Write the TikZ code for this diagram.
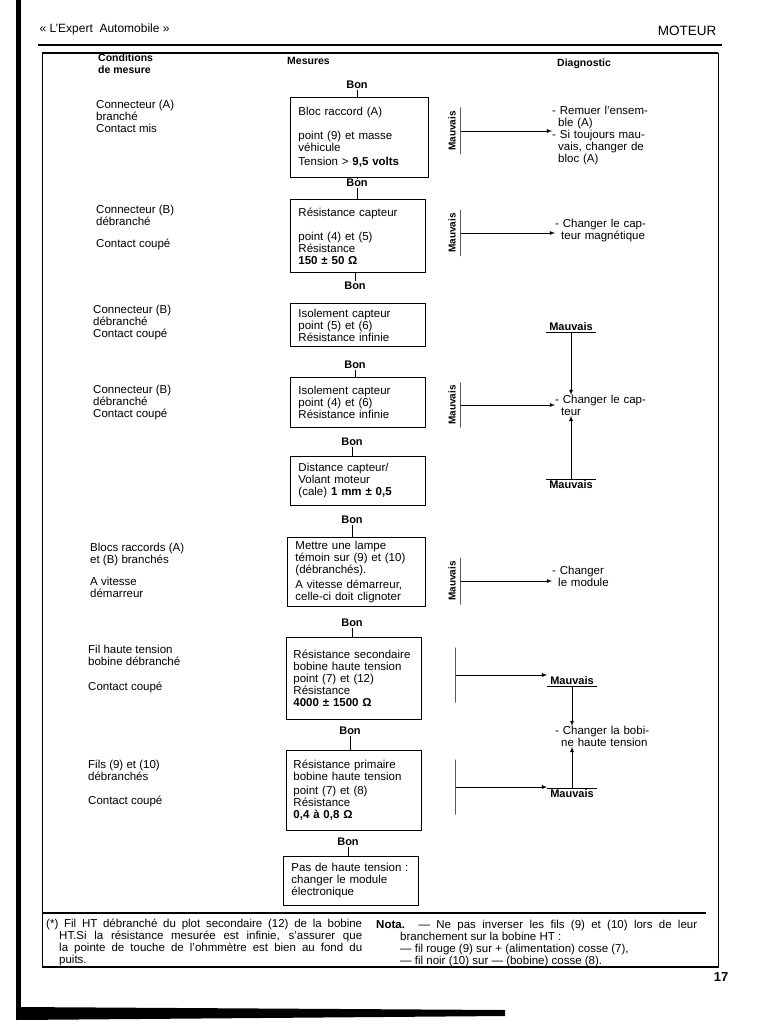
\documentclass[tikz,border=0pt]{standalone}
\usepackage{fontspec}
\setmainfont{Liberation Sans}
\usepackage{tikz}
\usetikzlibrary{arrows,positioning}

\newcommand{\justif}[2]{\makebox[#1][s]{#2}}

\tikzset{
  texte/.style={font=\fontsize{11.5}{12}\selectfont, inner sep=0pt, anchor=north west, align=left},
  diag/.style={texte, text width=#1},
  diag/.default=104pt,
  gras/.style={font=\fontsize{11}{12}\selectfont\bfseries, inner sep=1pt},
  titrecol/.style={texte, font=\fontsize{10.5}{12}\selectfont\bfseries},
  mesure/.style={draw, line width=0.9pt, anchor=north west, align=left,
    font=\fontsize{11.5}{12}\selectfont, inner xsep=8pt, inner ysep=3pt, text width=#1},
  mesure/.default=119pt,
  barre/.style={draw, line width=1pt, inner sep=0pt, minimum width=0pt},
  mauvrot/.style={gras, font=\fontsize{10}{11}\selectfont\bfseries, rotate=90, anchor=south},
  trait/.style={line width=0.8pt},
  fleche/.style={line width=0.8pt, ->, >=latex},
}

\begin{document}
\begin{tikzpicture}[x=1pt,y=-1pt]
  \useasboundingbox (0,0) rectangle (759,1024);
  % reliure
  \fill (16,0) rectangle (21,1012);
  \fill (16,1007) -- (505,1010) -- (505,1016) -- (16,1020) -- cycle;
  % en-tete
  \node[anchor=west, font=\fontsize{12}{14}\selectfont] (titre) at (36,29) {« L'Expert\ \ Automobile »};
  \node[anchor=east, font=\fontsize{13.5}{16}\selectfont] (moteur) at (720,31) {MOTEUR};
  \draw[line width=1.5pt] (38,45) -- (722,45);
  % cadre
  \draw[line width=0.9pt] (42,53) rectangle (718,967);
  \draw[line width=1.4pt] (42,53) -- (718,53);
  \draw[line width=1.4pt] (42,913) -- (706,913);
  \draw[line width=1.4pt] (42,967) -- (718,967);
  \node[font=\fontsize{13}{15}\selectfont\bfseries] (page) at (721,977) {17};

  % titres de colonnes
  \node[titrecol] (hcond) at (98,54) {Conditions\\de mesure};
  \node[titrecol] (hmes) at (287,57) {Mesures};
  \node[titrecol] (hdiag) at (557,59) {Diagnostic};

  % conditions de mesure
  \node[texte] (c1) at (96,100) {Connecteur (A)\\branché\\Contact mis};
  \node[texte] (c2) at (96,205) {Connecteur (B)\\débranché\\[10pt]Contact coupé};
  \node[texte] (c3) at (93,305) {Connecteur (B)\\débranché\\Contact coupé};
  \node[texte] (c4) at (93,385) {Connecteur (B)\\débranché\\Contact coupé};
  \node[texte] (c5) at (90,543) {Blocs raccords (A)\\et (B) branchés\\[10pt]A vitesse\\démarreur};
  \node[texte] (c6) at (88,645) {Fil haute tension\\bobine débranché\\[13pt]Contact coupé};
  \node[texte] (c7) at (88,760) {Fils (9) et (10)\\débranchés\\[12pt]Contact coupé};

  % mesures
  \node[mesure=122pt, minimum height=80pt] (m1) at (290,97)
    {Bloc raccord (A)\\[12pt]point (9) et masse\\véhicule\\[2pt]Tension > \textbf{9,5 volts}};
  \node[mesure, minimum height=73pt] (m2) at (290,199)
    {Résistance capteur\\[12pt]point (4) et (5)\\Résistance\\\textbf{150 ± 50 Ω}};
  \node[mesure, minimum height=43pt] (m3) at (290,303)
    {Isolement capteur\\point (5) et (6)\\Résistance infinie};
  \node[mesure, minimum height=50pt] (m4) at (290,377)
    {Isolement capteur\\point (4) et (6)\\Résistance infinie};
  \node[mesure, minimum height=49pt] (m5) at (290,456)
    {Distance capteur/\\Volant moteur\\(cale) \textbf{1 mm ± 0,5}};
  \node[mesure=122pt, minimum height=69pt] (m6) at (287,537)
    {Mettre une lampe\\témoin sur (9) et (10)\\(débranchés).\\[3pt]A vitesse démarreur,\\celle-ci doit clignoter};
  \node[mesure=121pt, inner xsep=7pt, minimum height=82pt] (m7) at (286,637)
    {Résistance secondaire\\bobine haute tension\\*point (7) et (12)\\Résistance\\\textbf{4000 ± 1500 Ω}};
  \node[mesure=121pt, inner xsep=7pt, minimum height=80pt] (m8) at (286,750)
    {Résistance primaire\\bobine haute tension\\[2pt]point (7) et (8)\\Résistance\\\textbf{0,4 à 0,8 Ω}};
  \node[mesure, minimum height=49pt] (m9) at (283,856)
    {Pas de haute tension :\\changer le module\\électronique};

  % Bon
  \node[gras] (b0) at (357,85) {Bon};
  \node[gras] (b1) at (357,183) {Bon};
  \node[gras] (b2) at (355,286) {Bon};
  \node[gras] (b3) at (355,365) {Bon};
  \node[gras] (b4) at (352,442) {Bon};
  \node[gras] (b5) at (352,520) {Bon};
  \node[gras] (b6) at (352,623) {Bon};
  \node[gras] (b7) at (350,731) {Bon};
  \node[gras] (b8) at (348,842) {Bon};
  \draw[trait] (b0.south) -- (b0.south |- m1.north);
  \draw[trait] (m1.south -| b1) -- (b1.north);
  \draw[trait] (b1.south) -- (b1.south |- m2.north);
  \draw[trait] (m2.south -| b2) -- (b2.north);
  \draw[trait] (b3.south) -- (b3.south |- m4.north);
  \draw[trait] (b4.south) -- (b4.south |- m5.north);
  \draw[trait] (b5.south) -- (b5.south |- m6.north);
  \draw[trait] (b6.south) -- (b6.south |- m7.north);
  \draw[trait] (b7.south) -- (b7.south |- m8.north);
  \draw[trait] (b8.south) -- (b8.south |- m9.north);

  % diagnostic
  \node[diag] (d1) at (552,106) {\justif{100pt}{- Remuer l'ensem-}\\\hspace*{6pt}ble (A)\\
    \justif{100pt}{- Si toujours mau-}\\\hspace*{6pt}\justif{94pt}{vais, changer de}\\\hspace*{6pt}bloc (A)};
  \node[diag] (d2) at (555,219) {\justif{92pt}{- Changer le cap-}\\\hspace*{6pt}teur magnétique};
  \node[diag] (d3) at (555,395) {\justif{92pt}{- Changer le cap-}\\\hspace*{6pt}teur};
  \node[diag] (d6) at (552,566) {- Changer\\\hspace*{6pt}le module};
  \node[diag] (d7) at (555,726) {\justif{92pt}{- Changer la bobi-}\\\hspace*{6pt}ne haute tension};

  % Mauvais
  \node[barre, minimum height=47pt] (br1) at (460,131) {};
  \node[barre, minimum height=46pt] (br2) at (460,233) {};
  \node[barre, minimum height=45pt] (br4) at (460,405) {};
  \node[barre, minimum height=47pt] (br6) at (460,581) {};
  \node[barre, minimum height=55pt] (br7) at (455,675) {};
  \node[barre, minimum height=55pt] (br8) at (455,787) {};
  \node[mauvrot] (mr1) at ([xshift=-3pt]br1.center) {Mauvais};
  \node[mauvrot] (mr2) at ([xshift=-3pt]br2.center) {Mauvais};
  \node[mauvrot] (mr4) at ([xshift=-3pt]br4.center) {Mauvais};
  \node[mauvrot] (mr6) at ([xshift=-3pt]br6.center) {Mauvais};
  \node[gras, inner xsep=3pt] (mh1) at (571,327) {Mauvais};
  \node[gras, inner xsep=3pt] (mh2) at (571,485) {Mauvais};
  \node[gras, inner xsep=3pt] (mh3) at (572,681) {Mauvais};
  \node[gras, inner xsep=3pt] (mh4) at (572,794) {Mauvais};
  \draw[trait] (mh1.south west) -- (mh1.south east);
  \draw[trait] (mh2.north west) -- (mh2.north east);
  \draw[trait] (mh3.south west) -- (mh3.south east);
  \draw[trait] (mh4.north west) -- (mh4.north east);

  \draw[fleche] (br1) -- (br1 -| d1.west);
  \draw[fleche] (br2) -- (br2 -| d2.west);
  \draw[fleche] (br4) -- (br4 -| d3.west);
  \draw[fleche] (br6) -- (br6 -| d6.west);
  \draw[fleche] (br7) -- (br7 -| mh3.west);
  \draw[fleche] (br8) -- (br8 -| mh4.west);
  \draw[fleche] (mh1.south) -- (mh1.south |- d3.north);
  \draw[fleche] (mh2.north) -- (mh2.north |- d3.south);
  \draw[fleche] (mh3.south) -- (mh3.south |- d7.north);
  \draw[fleche] (mh4.north) -- (mh4.north |- d7.south);

  % notes
  \node[texte] (f1) at (46,919)
    {\justif{316pt}{(*) Fil HT débranché du plot secondaire (12) de la bobine}\\
     \hspace*{13pt}\justif{303pt}{HT.Si la résistance mesurée est infinie, s'assurer que}\\
     \hspace*{13pt}\justif{303pt}{la pointe de touche de l'ohmmètre est bien au fond du}\\
     \hspace*{13pt}puits.};
  \node[texte] (f2) at (376,920)
    {\justif{321pt}{\textbf{Nota.} — Ne pas inverser les fils (9) et (10) lors de leur}\\
     \hspace*{24pt}branchement sur la bobine HT :\\
     \hspace*{24pt}— fil rouge (9) sur + (alimentation) cosse (7),\\
     \hspace*{24pt}— fil noir (10) sur — (bobine) cosse (8).};
\end{tikzpicture}
\end{document}
